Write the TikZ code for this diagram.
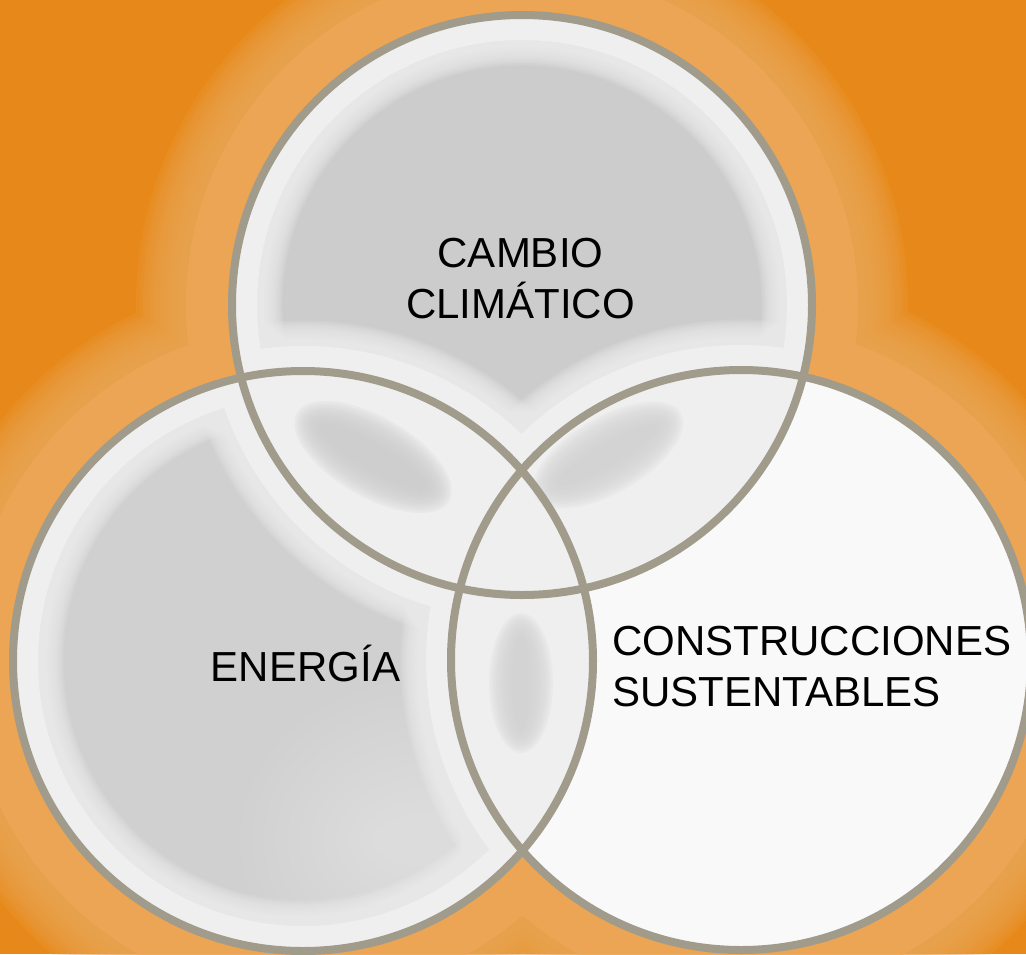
\documentclass[tikz,border=0pt]{standalone}
\usepackage{fontspec}
\setmainfont{Liberation Sans}
\definecolor{bgorange}{HTML}{E7891A}
\definecolor{glowor}{HTML}{EDA857}
\definecolor{ringc}{HTML}{A19B8B}
\definecolor{lt}{HTML}{EFEFEF}
\definecolor{wh}{HTML}{F9F9F9}
\definecolor{dkT}{HTML}{CCCCCC}
\definecolor{dkL}{HTML}{D0D0D0}
\definecolor{blobTL}{HTML}{CDCDCD}
\definecolor{blobTR}{HTML}{D3D3D3}
\definecolor{blobLR}{HTML}{D3D3D3}
% soft blob: colour, cx, cy, rx, ry, angle, edge step, layer opacity
\newcommand\softblob[8]{%
  \foreach \k in {0,...,11}{%
    \pgfmathsetmacro\bra{#4-#7*\k}%
    \pgfmathsetmacro\brb{#5-#7*\k}%
    \fill[#1, opacity=#8, rotate around={#6:(#2,#3)}] (#2,#3) ellipse [x radius=\bra pt, y radius=\brb pt];
  }}
\begin{document}
\begin{tikzpicture}[x=1pt,y=-1pt,
  lbl/.style={font=\fontsize{42}{51}\selectfont, inner sep=0pt, text=black},
  ringline/.style={draw=ringc, line width=8pt}]
\useasboundingbox (0,0) rectangle (1026,954);
\fill[bgorange] (0,0) rectangle (1026,954);
\coordinate (T) at (522,305);
\coordinate (L) at (303,661);
\coordinate (R) at (741,660);
% glow around the circles
\foreach \k in {0,...,14}{
  \pgfmathsetmacro\rr{294+92-3.5*\k}
  \fill[glowor, opacity=0.14] (T) circle[radius=\rr pt] (L) circle[radius=\rr pt] (R) circle[radius=\rr pt];
}
\fill[glowor, opacity=0.7] (T) circle[radius=336pt] (L) circle[radius=336pt] (R) circle[radius=336pt];
% base fills
\fill[wh] (R) circle[radius=292pt];
\fill[dkT] (T) circle[radius=292pt];
\fill[dkL] (L) circle[radius=292pt];
\begin{scope}
  \clip (T) circle[radius=292pt];
  \fill[lt] (L) circle[radius=292pt];
  \fill[lt] (R) circle[radius=292pt];
\end{scope}
\begin{scope}
  \clip (L) circle[radius=292pt];
  \fill[lt] (R) circle[radius=292pt];
  \softblob{lt}{430}{840}{190}{160}{0}{12}{0.06}
\end{scope}
% light soft bands along every rim
\begin{scope}
  \clip (T) circle[radius=292pt] (L) circle[radius=292pt];
  \foreach \c in {T,L,R}{
    \foreach \k in {0,...,19}{
      \pgfmathsetmacro\w{2*(25+1.35*\k)}
      \draw[lt, opacity=0.12, line width=\w pt] (\c) circle[radius=290pt];
    }
    \draw[lt, line width=50pt] (\c) circle[radius=290pt];
  }
\end{scope}
% soft blobs in the lenses
\begin{scope}
  \clip (T) circle[radius=290pt];
  \clip (L) circle[radius=290pt];
  \softblob{blobTL}{373}{457}{88}{40}{-30}{2.5}{0.18}
\end{scope}
\begin{scope}
  \clip (T) circle[radius=290pt];
  \clip (R) circle[radius=290pt];
  \softblob{blobTR}{608}{455}{84}{38}{30}{2.5}{0.18}
\end{scope}
\begin{scope}
  \clip (L) circle[radius=290pt];
  \clip (R) circle[radius=290pt];
  \softblob{blobLR}{521}{683}{32}{70}{0}{2.2}{0.18}
\end{scope}
% rings
\draw[ringline] (T) circle[radius=290pt];
\draw[ringline] (L) circle[radius=290pt];
\draw[ringline] (R) circle[radius=290pt];
% labels
\node[lbl, align=center, anchor=base] (cc) at (520.5,318) {CAMBIO\\CLIMÁTICO};
\node[lbl, anchor=base] (en) at (305.5,681) {ENERGÍA};
\node[lbl, align=left, anchor=base west] (cs) at (612,706) {CONSTRUCCIONES\\SUSTENTABLES};
\end{tikzpicture}
\end{document}
